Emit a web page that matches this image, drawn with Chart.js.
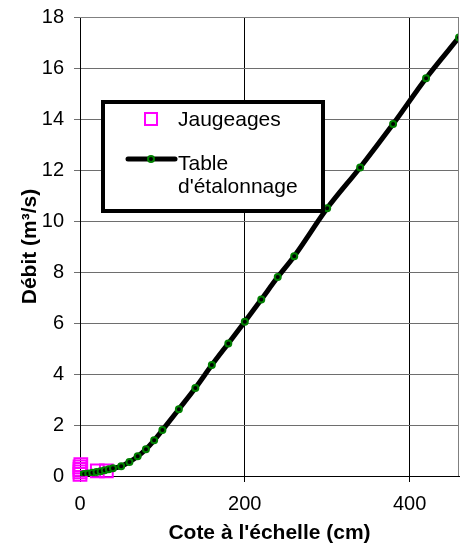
<!DOCTYPE html>
<html>
<head>
<meta charset="utf-8">
<script src="https://cdn.jsdelivr.net/npm/chart.js@4.4.1/dist/chart.umd.min.js"></script>
<style>
  html, body { margin: 0; padding: 0; background: #fff; }
  #wrap { width: 470px; height: 544px; position: relative; }
</style>
</head>
<body>
<div id="wrap"><canvas id="c" width="470" height="544"></canvas></div>
<script>
// ---- Data ----
const tableCote = [0, 5, 10, 15, 20, 25, 30, 35, 40, 50, 60, 70, 80, 90, 100, 120, 140, 160, 180, 200, 220, 240, 260, 300, 340, 380, 420, 460];
const tableDebit = [0.05, 0.08, 0.1, 0.13, 0.16, 0.19, 0.23, 0.26, 0.3, 0.38, 0.55, 0.77, 1.05, 1.4, 1.8, 2.62, 3.45, 4.35, 5.2, 6.05, 6.92, 7.8, 8.62, 10.5, 12.1, 13.8, 15.6, 17.2];
const jaugCote = [0, 0, 0, 0, 1, 21, 32];
const jaugDebit = [0.06, 0.16, 0.26, 0.36, 0.45, 0.2, 0.2];
const xTickValues = [0, 200, 400];
const yTickValues = [0, 2, 4, 6, 8, 10, 12, 14, 16, 18];
const legendLabels = ['Jaugeages', ['Table', "d'étalonnage"]];
const xTitle = "Cote à l'échelle (cm)";
const yTitle = 'Débit (m³/s)';

const FONT = "'Liberation Sans', Arial, sans-serif";
const MAGENTA = '#ff00ff';
const GREEN = '#008000';

const tableData = tableCote.map((x, i) => ({ x: x, y: tableDebit[i] }));
const jaugData = jaugCote.map((x, i) => ({ x: x, y: jaugDebit[i] }));

const frame = {
  id: 'frame',
  afterDatasetsDraw(chart) {
    const a = chart.chartArea, ctx = chart.ctx;
    ctx.save();
    ctx.strokeStyle = '#808080';
    ctx.lineWidth = 1;
    ctx.beginPath();
    ctx.moveTo(a.left, a.top + 0.5);
    ctx.lineTo(a.right - 0.5, a.top + 0.5);
    ctx.lineTo(a.right - 0.5, a.bottom);
    ctx.stroke();
    ctx.restore();
  }
};

const boxLegend = {
  id: 'boxLegend',
  afterDraw(chart) {
    const ctx = chart.ctx;
    ctx.save();
    // box
    ctx.fillStyle = '#fff';
    ctx.fillRect(103, 102, 220, 109);
    ctx.strokeStyle = '#000';
    ctx.lineWidth = 4;
    ctx.strokeRect(103, 102, 220, 109);
    // jaugeages marker
    ctx.strokeStyle = MAGENTA;
    ctx.lineWidth = 2;
    ctx.strokeRect(145, 113, 12, 12);
    // table line sample
    ctx.strokeStyle = '#000';
    ctx.lineWidth = 5;
    ctx.lineCap = 'round';
    ctx.beginPath();
    ctx.moveTo(128, 159);
    ctx.lineTo(175, 159);
    ctx.stroke();
    ctx.beginPath();
    ctx.arc(151, 159, 3, 0, Math.PI * 2);
    ctx.fillStyle = '#000';
    ctx.fill();
    ctx.lineWidth = 2;
    ctx.strokeStyle = GREEN;
    ctx.stroke();
    // text
    ctx.fillStyle = '#000';
    ctx.font = '21px ' + FONT;
    ctx.textBaseline = 'middle';
    ctx.textAlign = 'left';
    ctx.fillText(legendLabels[0], 178, 120);
    ctx.fillText(legendLabels[1][0], 178, 164);
    ctx.fillText(legendLabels[1][1], 178, 187);
    ctx.restore();
  }
};

new Chart(document.getElementById('c'), {
  type: 'line',
  data: {
    datasets: [
      {
        label: 'Table d\'étalonnage',
        data: tableData,
        borderColor: '#000',
        borderWidth: 5,
        cubicInterpolationMode: 'monotone',
        pointRadius: 3,
        pointBorderWidth: 2,
        pointBorderColor: GREEN,
        pointBackgroundColor: '#000',
        fill: false,
        order: 0
      },
      {
        label: 'Jaugeages',
        data: jaugData,
        showLine: false,
        pointStyle: 'rect',
        pointRadius: 9,
        pointBorderWidth: 2,
        pointBorderColor: MAGENTA,
        pointBackgroundColor: 'rgba(0,0,0,0)',
        clip: false,
        order: 1
      }
    ]
  },
  options: {
    responsive: false,
    animation: false,
    devicePixelRatio: 1,
    layout: { padding: { top: 17, right: 9, left: 0, bottom: 0 } },
    plugins: { legend: { display: false }, tooltip: { enabled: false } },
    scales: {
      x: {
        type: 'linear',
        min: 0,
        max: 460,
        afterBuildTicks(s) { s.ticks = xTickValues.map(v => ({ value: v })); },
        afterFit(s) { s.height = 68; s.paddingLeft = 0; s.paddingRight = 0; },
        grid: { color: '#000', lineWidth: 1, tickLength: 6 },
        border: { color: '#000', width: 1 },
        ticks: { font: { family: FONT, size: 20 }, color: '#000', padding: 10, maxRotation: 0 },
        title: { display: true, text: xTitle, color: '#000', font: { family: FONT, size: 21, weight: 'bold', lineHeight: 1 }, padding: { top: 0, bottom: 0 } }
      },
      y: {
        type: 'linear',
        min: 0,
        max: 18,
        afterBuildTicks(s) { s.ticks = yTickValues.map(v => ({ value: v })); },
        afterFit(s) { s.width = 80; s.paddingTop = 0; s.paddingBottom = 0; },
        grid: { color: '#6e6e6e', lineWidth: 1, tickLength: 6 },
        border: { color: '#000', width: 1 },
        ticks: { font: { family: FONT, size: 20 }, color: '#000', padding: 10 },
        title: { display: true, text: yTitle, color: '#000', font: { family: FONT, size: 21, weight: 'bold', lineHeight: 1 }, padding: { top: 20, bottom: 0 } }
      }
    }
  },
  plugins: [frame, boxLegend]
});
</script>
</body>
</html>
